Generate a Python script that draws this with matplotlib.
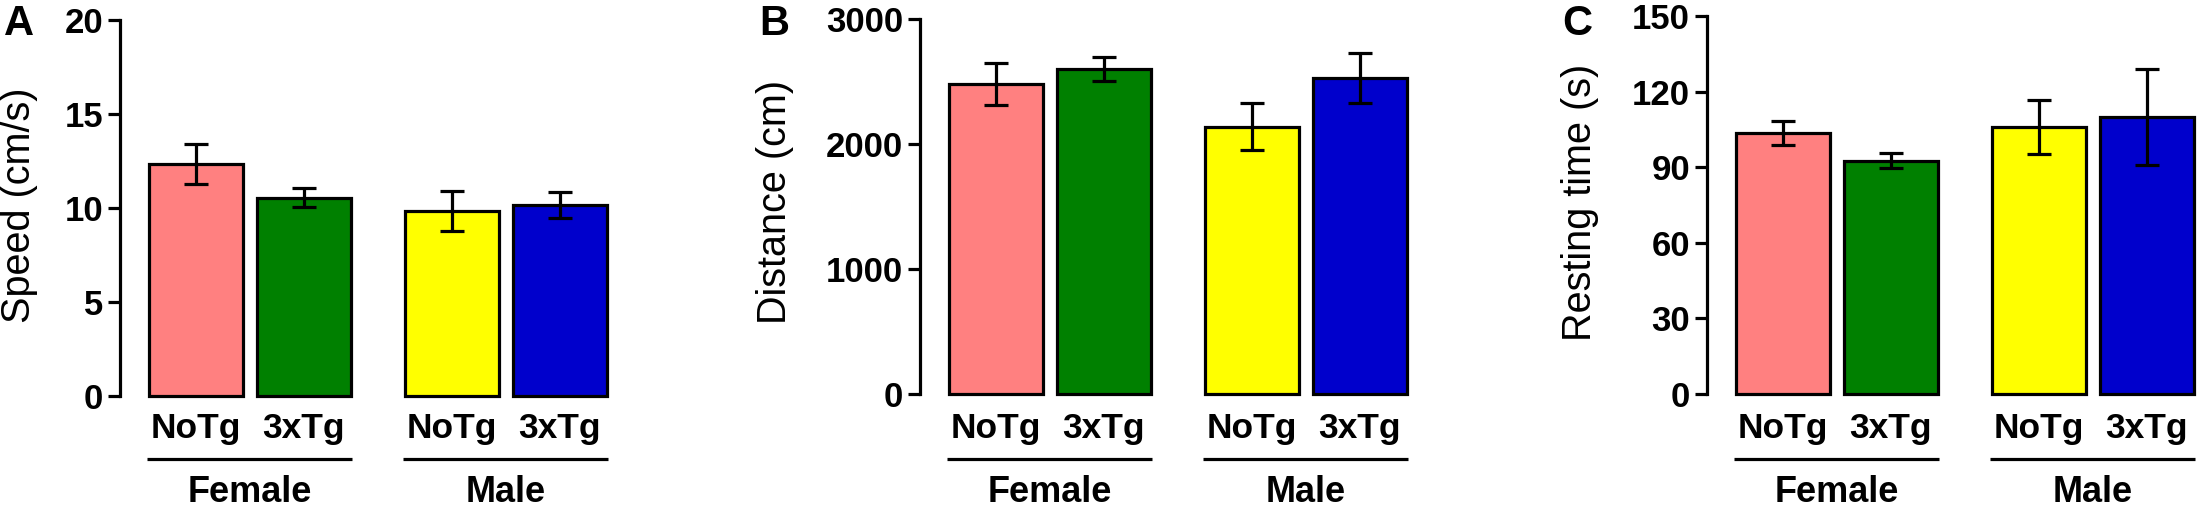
import matplotlib
matplotlib.use("Agg")
import matplotlib.pyplot as plt
import matplotlib.transforms as mtransforms

# ---------------- data ----------------
groups = ["Female", "Male"]
genotypes = ["NoTg", "3xTg", "NoTg", "3xTg"]
bar_colors = ["#FF8080", "#008000", "#FFFF00", "#0000CC"]

speed_mean = [12.35, 10.55, 9.85, 10.15]
speed_err = [1.05, 0.5, 1.05, 0.7]

distance_mean = [2480, 2600, 2140, 2530]
distance_err = [170, 95, 185, 200]

resting_mean = [103.5, 92.5, 106.0, 110.0]
resting_err = [4.8, 3.0, 10.8, 19.0]

panel_letters = ["A", "B", "C"]
ylabels = ["Speed (cm/s)", "Distance (cm)", "Resting time (s)"]
yticks = [[0, 5, 10, 15, 20], [0, 1000, 2000, 3000], [0, 30, 60, 90, 120, 150]]
ymax = [20, 3000, 150]

# ---------------- layout ----------------
W, H = 2201, 509
FONT = "Liberation Sans"
fig = plt.figure(figsize=(W / 100, H / 100), dpi=100)

# per panel: spine x, top y, zero y (pixels), ylabel center x, ylabel center y, letter x
panels = [
    dict(sx=120, ty=20, zy=396, lx=19, ly=205, px=4),
    dict(sx=920, ty=19, zy=394, lx=775, ly=202, px=759),
    dict(sx=1707, ty=16, zy=394, lx=1580, ly=202, px=1562),
]
means = [speed_mean, distance_mean, resting_mean]
errs = [speed_err, distance_err, resting_err]

U = 97.0           # pixels per data unit (bar pitch unit)
axw_px = 494
c0 = (27 + 48.5) / U
centers = [c0, c0 + 108 / U, c0 + 256 / U, c0 + 364 / U]
bw = 94 / U

for i, p in enumerate(panels):
    ax = fig.add_axes([p["sx"] / W, 1 - p["zy"] / H, axw_px / W, (p["zy"] - p["ty"]) / H])
    ax.set_xlim(0, axw_px / U)
    ax.set_ylim(0, ymax[i])
    bars = ax.bar(centers, means[i], width=bw, color=bar_colors, edgecolor="black",
                  linewidth=2.3, zorder=2)
    for b in bars:
        b.set_clip_on(False)
    eb = ax.errorbar(centers, means[i], yerr=errs[i], fmt="none", ecolor="black",
                     elinewidth=2.3, capsize=8.5, capthick=2.3, zorder=3)
    for art in eb.lines[1] + eb.lines[2]:
        art.set_clip_on(False)
    for s in ["top", "right", "bottom"]:
        ax.spines[s].set_visible(False)
    ax.spines["left"].set_linewidth(2.3)
    ax.set_xticks([])
    ax.set_yticks(yticks[i])
    ax.set_yticklabels([str(t) for t in yticks[i]], fontfamily=FONT, fontweight="bold",
                       fontsize=25)
    ax.tick_params(axis="y", direction="out", length=8.8, width=2.3, pad=3.5)

    trans = mtransforms.blended_transform_factory(ax.transData, fig.transFigure)
    for c, g in zip(centers, genotypes):
        ax.text(c, 1 - 438 / H, g, transform=trans, ha="center", va="baseline",
                fontfamily=FONT, fontweight="bold", fontsize=25.5)
    for gi, gname in enumerate(groups):
        left = centers[2 * gi] - bw / 2 - 1.5 / U
        right = centers[2 * gi + 1] + bw / 2 + 1.5 / U
        ax.plot([left, right], [1 - 459 / H] * 2, transform=trans, color="black",
                lw=2.3, clip_on=False, solid_capstyle="butt")
        ax.text((left + right) / 2, 1 - 502 / H, gname, transform=trans, ha="center",
                va="baseline", fontfamily=FONT, fontweight="bold", fontsize=26)

    fig.text(p["lx"] / W, 1 - p["ly"] / H, ylabels[i], rotation=90, ha="center",
             va="center", fontfamily=FONT, fontsize=28.5)
    fig.text(p["px"] / W, 1 - 4 / H, panel_letters[i], ha="left", va="top",
             fontfamily=FONT, fontweight="bold", fontsize=30)

fig.savefig("out.png", dpi=100)
